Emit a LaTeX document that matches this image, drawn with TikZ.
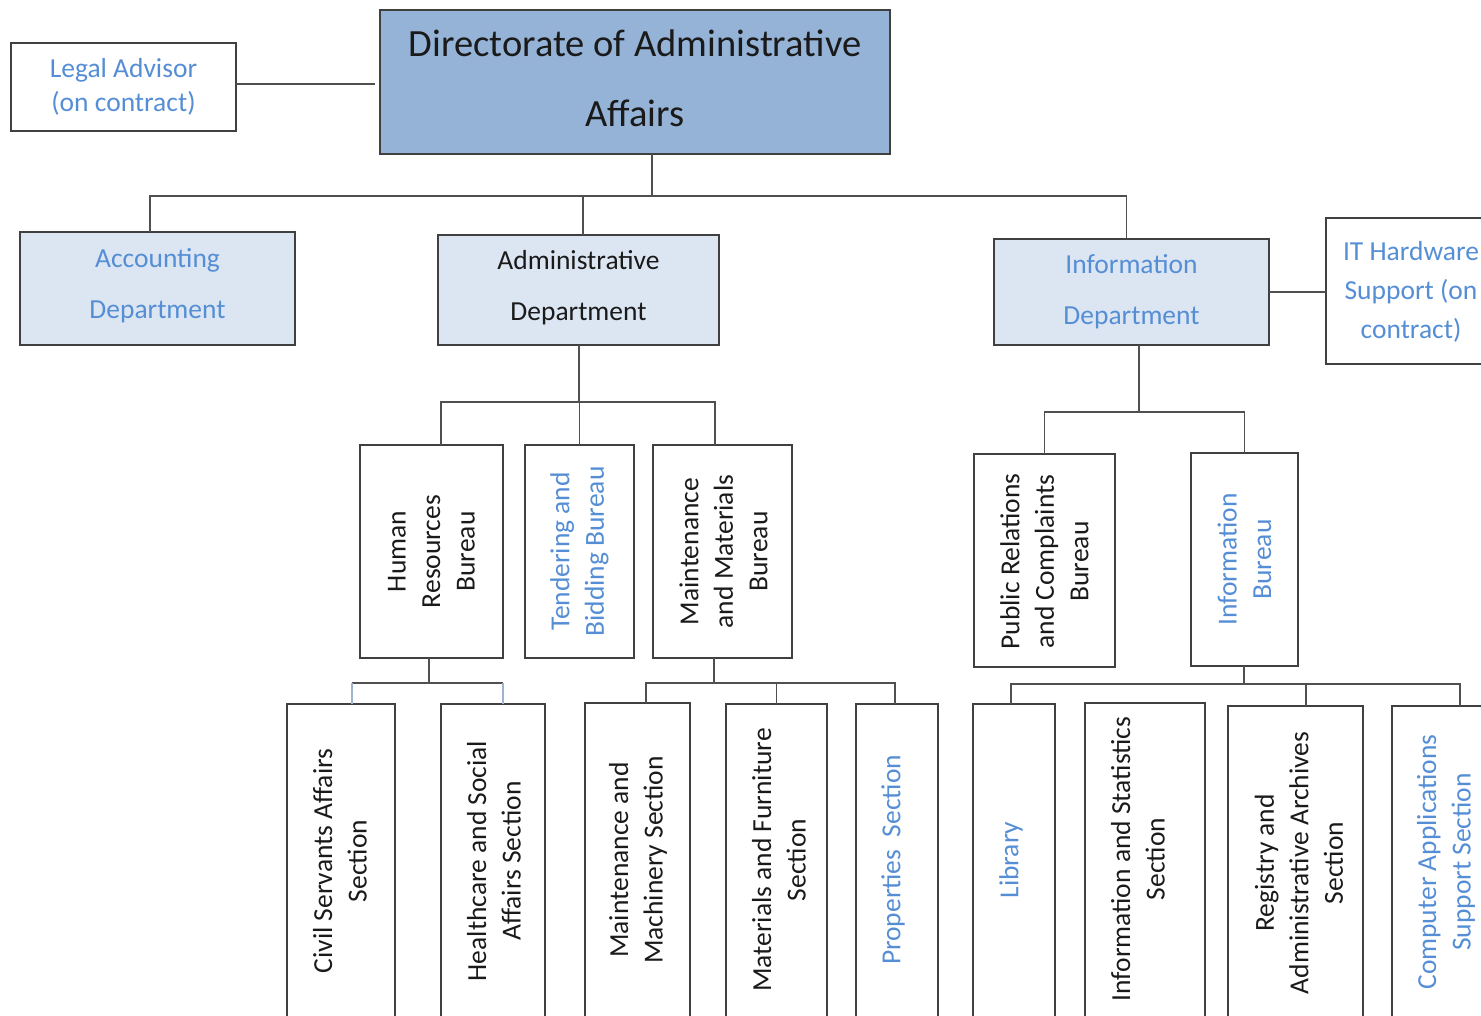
\documentclass[tikz,border=0pt]{standalone}
\usepackage{fontspec}
\setmainfont{Carlito}
\definecolor{txtblue}{HTML}{558ED5}
\definecolor{txtdark}{HTML}{1A1A1A}
\definecolor{headfill}{HTML}{95B3D7}
\definecolor{deptfill}{HTML}{DCE6F2}
\definecolor{edge}{HTML}{404040}
\definecolor{wire}{HTML}{505050}
\definecolor{wireblue}{HTML}{9DB3CF}
\begin{document}
\begin{tikzpicture}[x=1pt,y=-1pt,
  box/.style={draw=edge, line width=1.4pt, anchor=north west, inner sep=0pt, outer sep=0pt},
  wire/.style={draw=wire, line width=1.3pt},
  vtext/.style={rotate=90, align=center, inner sep=0pt, font=\fontsize{27.5}{34.5}\selectfont},
  htext/.style={align=center, inner sep=0pt, font=\fontsize{27.5}{51}\selectfont},
]
\useasboundingbox (0,0) rectangle (1481,1016);
\clip (0,0) rectangle (1481,1016);

% ---- top level ----
\node[box, fill=headfill, minimum width=510pt, minimum height=144pt] (head) at (380,10) {};
\node[align=center, inner sep=0pt, text=txtdark, font=\fontsize{38.5}{70}\selectfont]
  (headtxt) at ([yshift=4pt]head.center) {Directorate of Administrative\\Affairs};

\node[box, minimum width=225pt, minimum height=88pt] (legal) at (11,43) {};
\node[align=center, inner sep=0pt, text=txtblue, font=\fontsize{27.5}{34.5}\selectfont]
  (legaltxt) at (legal.center) {Legal Advisor\\(on contract)};

% ---- departments ----
\node[box, fill=deptfill, minimum width=275pt, minimum height=113pt] (acct) at (20,232) {};
\node[htext, text=txtblue] (accttxt) at ([yshift=3pt]acct.center) {Accounting\\Department};

\node[box, fill=deptfill, minimum width=281pt, minimum height=110pt] (adm) at (438,235) {};
\node[htext, text=txtdark] (admtxt) at ([yshift=2pt]adm.center) {Administrative\\Department};

\node[box, fill=deptfill, minimum width=275pt, minimum height=106pt] (info) at (994,239) {};
\node[htext, text=txtblue] (infotxt) at ([yshift=0pt]info.center) {Information\\Department};

\node[box, minimum width=200pt, minimum height=146pt] (it) at (1326,218) {};
\node[align=center, inner sep=0pt, text=txtblue, font=\fontsize{27.5}{39}\selectfont]
  (ittxt) at (1411,292) {IT Hardware\\Support (on\\contract)};

% ---- bureaus ----
\node[box, minimum width=143pt, minimum height=213pt] (hr) at (360,445) {};
\node[vtext, text=txtdark] (hrtxt) at (hr.center) {Human\\Resources\\Bureau};

\node[box, minimum width=109pt, minimum height=213pt] (tend) at (525,445) {};
\node[vtext, text=txtblue] (tendtxt) at (tend.center) {Tendering and\\Bidding Bureau};

\node[box, minimum width=139pt, minimum height=213pt] (mnt) at (653,445) {};
\node[vtext, text=txtdark] (mnttxt) at ([xshift=1pt]mnt.center) {Maintenance\\and Materials\\Bureau};

\node[box, minimum width=141pt, minimum height=213pt] (pr) at (974,454) {};
\node[vtext, text=txtdark] (prtxt) at ([yshift=-1pt]pr.center) {Public Relations\\and Complaints\\Bureau};

\node[box, minimum width=107pt, minimum height=213pt] (ib) at (1191,453) {};
\node[vtext, text=txtblue] (ibtxt) at (ib.center) {Information\\Bureau};

% ---- sections (run past the lower edge) ----
\node[box, minimum width=108pt, minimum height=320pt] (civ) at (287,704) {};
\node[vtext, text=txtdark] (civtxt) at (340,861) {Civil Servants Affairs\\Section};

\node[box, minimum width=104pt, minimum height=320pt] (hc) at (441,704) {};
\node[vtext, text=txtdark] (hctxt) at (494,861) {Healthcare and Social\\Affairs Section};

\node[box, minimum width=105pt, minimum height=320pt] (mm) at (585,703) {};
\node[vtext, text=txtdark] (mmtxt) at (638,860) {Maintenance and\\Machinery Section};

\node[box, minimum width=101pt, minimum height=320pt] (mf) at (726,704) {};
\node[vtext, text=txtdark] (mftxt) at (779,860) {Materials and Furniture\\Section};

\node[box, minimum width=82pt, minimum height=320pt] (prop) at (856,704) {};
\node[vtext, text=txtblue] (proptxt) at (893,860) {Properties\ \ Section};

\node[box, minimum width=82pt, minimum height=320pt] (lib) at (973,704) {};
\node[vtext, text=txtblue] (libtxt) at (1011,860) {Library};

\node[box, minimum width=120pt, minimum height=320pt] (stat) at (1085,703) {};
\node[vtext, text=txtdark] (stattxt) at (1138,859) {Information and Statistics\\Section};

\node[box, minimum width=135pt, minimum height=320pt] (reg) at (1228,706) {};
\node[vtext, text=txtdark] (regtxt) at (1299,863) {Registry and\\Administrative Archives\\Section};

\node[box, minimum width=136pt, minimum height=320pt] (cas) at (1392,706) {};
\node[vtext, text=txtblue] (castxt) at (1446,862) {Computer Applications\\Support Section};

% ---- connectors ----
\draw[wire] ([yshift=3pt]legal.east) -- ([xshift=-5pt,yshift=3pt]legal.east -| head.west);

\coordinate (busTop) at (652,196);
\draw[wire] (busTop |- head.south) -- (busTop);
\draw[wire] ([xshift=-7.5pt]acct.north) |- ([xshift=-5pt]info.north |- busTop);
\draw[wire] ([xshift=-5pt]info.north) -- ([xshift=-5pt]info.north |- busTop);
\draw[wire] ([xshift=4.5pt]adm.north) -- ([xshift=4.5pt]adm.north |- busTop);

\draw[wire] (info.east) -- (info.east -| it.west);

\coordinate (busAdm) at (579,402);
\draw[wire] (busAdm |- adm.south) -- (busAdm);
\draw[wire] ([xshift=9.5pt]hr.north) |- (busAdm) -| ([xshift=-7.5pt]mnt.north);
\draw[wire] (tend.north) -- (tend.north |- busAdm);

\coordinate (busInf) at (1139,412);
\draw[wire] (busInf |- info.south) -- (busInf);
\draw[wire] (pr.north) |- (busInf) -| (ib.north);

\coordinate (busHR) at (429,683);
\draw[wire] (busHR |- hr.south) -- (busHR);
\draw[wire] (352,683) -- (503,683);
\draw[draw=wireblue, line width=1.3pt] ([xshift=11pt]civ.north) -- ([xshift=11pt]civ.north |- busHR);
\draw[draw=wireblue, line width=1.3pt] ([xshift=10pt]hc.north) -- ([xshift=10pt]hc.north |- busHR);

\coordinate (busMnt) at (714,683);
\draw[wire] (busMnt |- mnt.south) -- (busMnt);
\draw[wire] ([xshift=8.5pt]mm.north) |- (busMnt) -| ([xshift=-2pt]prop.north);
\draw[wire] (mf.north) -- (mf.north |- busMnt);

\coordinate (busIB) at (1244,684);
\draw[wire] (busIB |- ib.south) -- (busIB);
\draw[wire] ([xshift=-3pt]lib.north) |- (busIB) -| (cas.north);
\draw[wire] ([xshift=10.5pt]reg.north) -- ([xshift=10.5pt]reg.north |- busIB);
\end{tikzpicture}
\end{document}
